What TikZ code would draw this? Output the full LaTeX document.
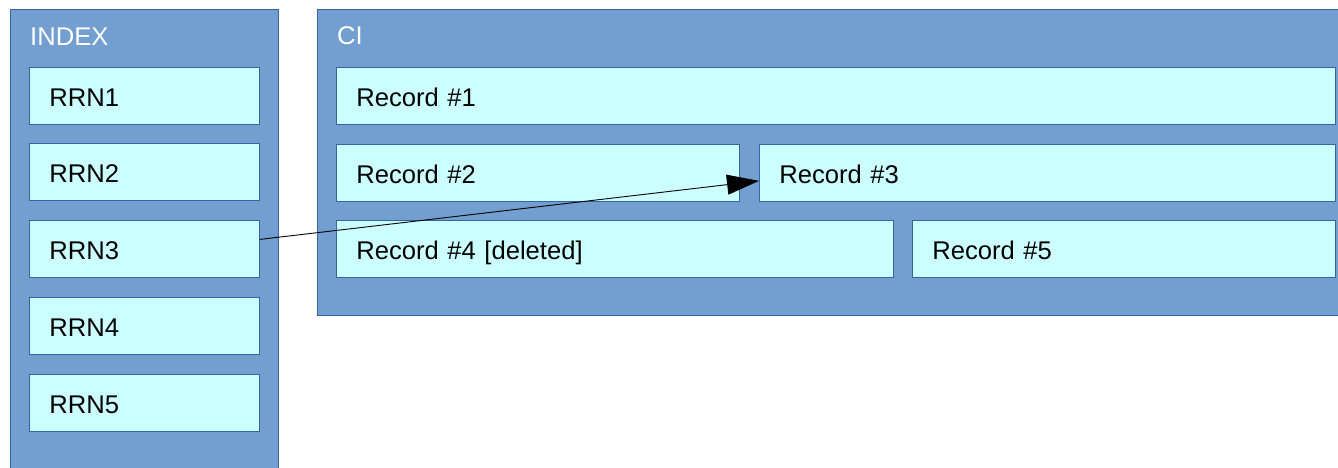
\documentclass[tikz,border=0pt]{standalone}
\usepackage{fontspec}
\setmainfont{Liberation Sans}
\usetikzlibrary{arrows.meta}
\definecolor{panelfill}{HTML}{729FCF}
\definecolor{panelline}{HTML}{3465A4}
\definecolor{cellfill}{HTML}{CCFFFF}
\begin{document}
\begin{tikzpicture}[x=1pt,y=-1pt,
  panel/.style={draw=panelline, fill=panelfill, line width=1pt, anchor=north west,
    inner sep=0pt, minimum width=#1},
  cell/.style={draw=panelline, fill=cellfill, line width=0.8pt, anchor=north west,
    inner ysep=0pt, inner xsep=20pt, text width=#1-40pt, minimum height=57pt,
    align=left, text height=22pt, text depth=0pt, font=\fontsize{25.6}{30}\selectfont},
  caption/.style={anchor=base west, inner sep=0pt, text=white, font=\fontsize{25.6}{30}\selectfont}]
  \useasboundingbox (0,0) rectangle (1338,467);
  \clip (0,0) rectangle (1338,467);

  % outer panels
  \node[panel=268pt, minimum height=470pt] (index) at (10,9) {};
  \node[panel=1030pt, minimum height=306pt] (ci) at (317,9) {};
  \node[caption] (indexlabel) at (30,45) {INDEX};
  \node[caption] (cilabel) at (337,44.5) {CI};

  % index entries
  \node[cell=230pt] (r1) at (29,67)  {RRN1};
  \node[cell=230pt] (r2) at (29,143) {RRN2};
  \node[cell=230pt] (r3) at (29,220) {RRN3};
  \node[cell=230pt] (r4) at (29,297) {RRN4};
  \node[cell=230pt] (r5) at (29,374) {RRN5};

  % records
  \node[cell=999pt] (rec1) at (336,67)  {Record \#1};
  \node[cell=403pt] (rec2) at (336,144) {Record \#2};
  \node[cell=576pt] (rec3) at (759,144) {Record \#3};
  \node[cell=557pt] (rec4) at (336,220) {Record \#4 [deleted]};
  \node[cell=423pt] (rec5) at (912,220) {Record \#5};

  % pointer from index entry to record
  \draw[line width=0.9pt, -{Triangle[length=32pt,width=20pt]}]
    ([yshift=9.5pt]r3.east) -- ([yshift=-8pt]rec3.west);
\end{tikzpicture}
\end{document}
